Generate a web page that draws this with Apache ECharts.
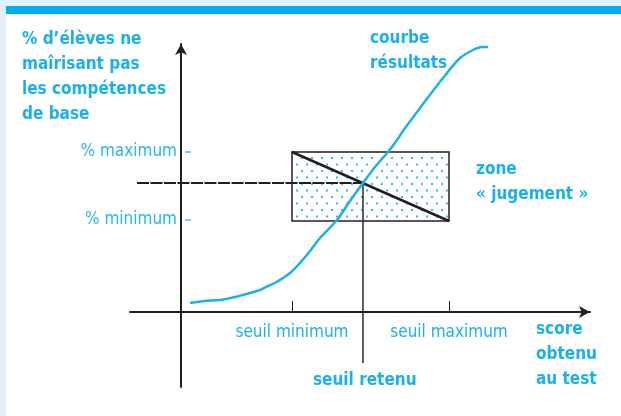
<!DOCTYPE html>
<html>
<head>
<meta charset="utf-8">
<script src="https://cdn.jsdelivr.net/npm/echarts@6/dist/echarts.min.js"></script>
<style>
  html, body { margin: 0; padding: 0; background: #e1f1fb; }
  .panel { position: absolute; left: 6px; top: 6px; width: 615px; height: 410px; background: #fff; border-top: 8px solid #00aeef; box-sizing: border-box; }
  #chart { position: absolute; left: 0; top: 0; width: 621px; height: 416px; }
</style>
</head>
<body>
<div class="panel"></div>
<div id="chart"></div>
<script>
// courbe résultats (score, % élèves)
const curveScore = [9, 24, 39, 54, 69, 79, 87, 94, 109, 119, 129, 139, 156, 169, 182, 194, 207, 216, 222, 239, 262, 279, 292, 301, 307]
const curvePct   = [9, 11, 12, 15, 19, 22, 26, 29, 39, 49, 61, 74, 92, 111, 129, 145, 160, 172, 181, 204, 234, 254, 262, 265, 265]
// seuils sur l'axe des scores
const xTickValues = [111, 268]
const xTickLabels = ['seuil minimum', 'seuil maximum']
// pourcentages sur l'axe vertical
const yTickValues = [160, 92]
const yTickLabels = ['% maximum', '% minimum']
// zone « jugement »
const zoneScore = [111, 268]
const zonePct = [160, 91]
// seuil retenu
const retenuScore = 182
const retenuPct = 129
const axisStart = { score: -44, pct: -51 }

const blue = '#1cb0ea'
const dark = '#231f20'
const font = '"Liberation Sans Narrow", "DejaVu Sans Condensed", "Roboto", sans-serif'

// motif pointillé de la zone
const dots = document.createElement('canvas')
dots.width = 10
dots.height = 13
const ctx = dots.getContext('2d')
ctx.fillStyle = '#3bb8ea'
ctx.fillRect(1, 1, 2, 2)
ctx.fillRect(6, 7.5, 2, 2)

const chart = echarts.init(document.getElementById('chart'))
const boldTitle = (text, left, top) => ({
   text: text,
   left: left,
   top: top,
   padding: 0,
   textStyle: { color: blue, fontFamily: font, fontWeight: 'bold', fontSize: 17, lineHeight: 25 }
})
const options = {
   animation: false,
   title: [
      boldTitle('% d’élèves ne\nmaîrisant pas\nles compétences\nde base', 22, 27),
      boldTitle('courbe\nrésultats', 370, 26),
      boldTitle('zone\n« jugement »', 476, 157),
      boldTitle('seuil retenu', 313, 368),
      boldTitle('score\nobtenu\nau test', 536, 317)
   ],
   grid: { left: 130, right: 31, top: 44, bottom: 29 },
   xAxis: {
      type: 'value',
      min: -51,
      max: 409,
      splitLine: { show: false },
      axisLine: {
         onZero: true,
         symbol: ['none', 'arrow'],
         symbolSize: [9, 11],
         lineStyle: { color: dark, width: 2 }
      },
      axisTick: {
         customValues: xTickValues,
         inside: true,
         length: 11,
         lineStyle: { color: dark, width: 1 }
      },
      axisLabel: {
         customValues: xTickValues,
         // les libellés restent au bas de la grille : on les remonte sous l'axe
         margin: -63,
         color: blue,
         fontFamily: font,
         fontSize: 17,
         formatter: v => xTickLabels[xTickValues.indexOf(v)]
      }
   },
   yAxis: {
      type: 'value',
      min: -75,
      max: 268,
      splitLine: { show: false },
      axisLine: {
         onZero: true,
         symbol: ['none', 'arrow'],
         symbolSize: [9, 11],
         lineStyle: { color: dark, width: 2 }
      },
      axisTick: { show: false },
      axisLabel: {
         customValues: yTickValues,
         margin: -47,
         color: '#2ab5ec',
         fontFamily: font,
         fontSize: 17,
         formatter: v => yTickLabels[yTickValues.indexOf(v)]
      }
   },
   series: [
      {
         name: 'zone',
         type: 'line',
         silent: true,
         symbol: 'none',
         lineStyle: { color: dark, width: 2.5 },
         data: [[zoneScore[0], zonePct[0]], [zoneScore[1], zonePct[1]]],
         markArea: {
            silent: true,
            itemStyle: {
               color: { image: dots, repeat: 'repeat' },
               borderColor: dark,
               borderWidth: 1.5
            },
            data: [[{ coord: [zoneScore[0], zonePct[0]] }, { coord: [zoneScore[1], zonePct[1]] }]]
         }
      },
      {
         name: 'retenu horizontal',
         type: 'line',
         silent: true,
         symbol: 'none',
         lineStyle: { color: '#1f1f1f', width: 1.8, type: [12, 1.5] },
         data: [[axisStart.score, retenuPct], [retenuScore, retenuPct]]
      },
      {
         name: 'retenu vertical',
         type: 'line',
         silent: true,
         symbol: 'none',
         lineStyle: { color: '#2a2a2a', width: 1.5 },
         data: [[retenuScore, retenuPct], [retenuScore, axisStart.pct]]
      },
      {
         name: 'courbe résultats',
         type: 'line',
         silent: true,
         symbol: 'none',
         smooth: 0.3,
         z: 5,
         lineStyle: { color: blue, width: 2.5 },
         data: curveScore.map((s, i) => [s, curvePct[i]])
      },
      {
         name: 'tirets',
         type: 'scatter',
         silent: true,
         symbol: 'rect',
         symbolSize: [6, 1.5],
         itemStyle: { color: blue },
         data: yTickValues.map(v => [7, v])
      }
   ]
}
chart.setOption(options)
</script>
</body>
</html>
